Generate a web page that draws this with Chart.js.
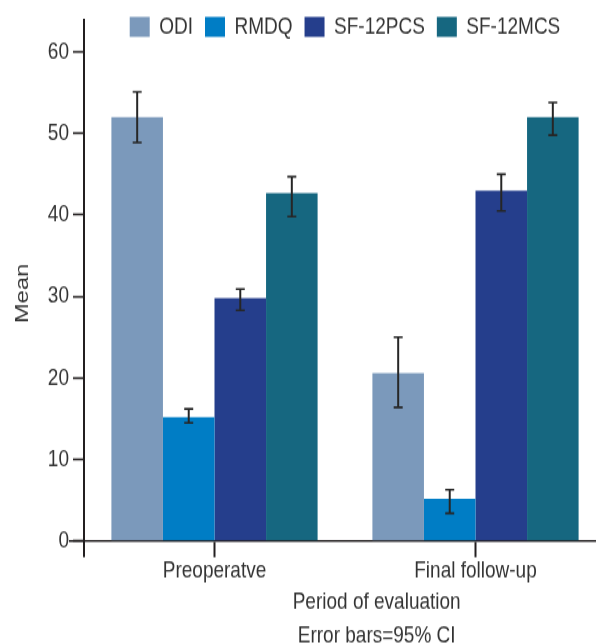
<!DOCTYPE html>
<html>
<head>
<meta charset="utf-8">
<script src="https://cdn.jsdelivr.net/npm/chart.js@4/dist/chart.umd.min.js"></script>
<style>
  html, body { margin: 0; padding: 0; background: #fff; }
  body { width: 596px; height: 644px; overflow: hidden; }
  /* the source figure is stretched vertically, so the chart is too */
  #chart { display: block; transform: scaleY(1.25); transform-origin: 0 0; }
</style>
</head>
<body>
<canvas id="chart" width="606" height="515"></canvas>
<script>
const categories = ['Preoperatve', 'Final follow-up']
const seriesNames = ['ODI', 'RMDQ', 'SF-12PCS', 'SF-12MCS']
const colors = ['#7b99bb', '#007dc5', '#253e8c', '#166780']

const odiMean = [52.0, 20.6]
const rmdqMean = [15.2, 5.2]
const pcsMean = [29.8, 43.0]
const mcsMean = [42.7, 52.0]

// 95% CI (low, high) per category
const odiCI = [[48.9, 55.1], [16.4, 25.0]]
const rmdqCI = [[14.5, 16.2], [3.4, 6.3]]
const pcsCI = [[28.3, 30.9], [40.5, 45.0]]
const mcsCI = [[39.8, 44.7], [49.8, 53.8]]

const yMax = 64
const yStep = 10

const means = [odiMean, rmdqMean, pcsMean, mcsMean]
const cis = [odiCI, rmdqCI, pcsCI, mcsCI]

const ink = '#231f20'
const textColor = '#333333'
const font = { family: '"Liberation Sans", Arial, sans-serif', size: 19 }

const errorBars = {
  id: 'errorBars',
  afterDatasetsDraw(chart) {
    const ctx = chart.ctx
    const y = chart.scales.y
    ctx.save()
    ctx.strokeStyle = '#262626'
    chart.data.datasets.forEach((ds, i) => {
      chart.getDatasetMeta(i).data.forEach((bar, j) => {
        const [lo, hi] = ds.ci[j]
        const yLo = y.getPixelForValue(lo)
        const yHi = y.getPixelForValue(hi)
        ctx.lineWidth = 2
        ctx.beginPath()
        ctx.moveTo(bar.x, yHi)
        ctx.lineTo(bar.x, yLo)
        ctx.stroke()
        ctx.lineWidth = 1.6
        ctx.beginPath()
        ctx.moveTo(bar.x - 4.5, yHi)
        ctx.lineTo(bar.x + 4.5, yHi)
        ctx.moveTo(bar.x - 4.5, yLo)
        ctx.lineTo(bar.x + 4.5, yLo)
        ctx.stroke()
      })
    })
    ctx.restore()
  }
}

// legend sits beside the top of the y axis: keep its layout box thin,
// but let it paint its full row
const legendRoom = {
  id: 'legendRoom',
  afterLayout(chart) {
    if (chart.legend) chart.legend.bottom = chart.legend.top + 40
  }
}

// little stubs where the axes run past their crossing point
const axisStubs = {
  id: 'axisStubs',
  afterDraw(chart) {
    const ctx = chart.ctx
    const { left, bottom } = chart.chartArea
    ctx.save()
    ctx.strokeStyle = ink
    ctx.lineWidth = 2
    ctx.beginPath()
    ctx.moveTo(left, bottom)
    ctx.lineTo(left, bottom + 13)
    ctx.stroke()
    ctx.lineWidth = 1.6
    ctx.beginPath()
    ctx.moveTo(left - 15, bottom)
    ctx.lineTo(left, bottom)
    ctx.stroke()
    ctx.restore()
  }
}

const datasets = seriesNames.map((name, i) => ({
  label: name,
  data: means[i],
  ci: cis[i],
  backgroundColor: colors[i],
  borderWidth: 0,
  categoryPercentage: 0.79,
  barPercentage: 1.0
}))

new Chart(document.getElementById('chart'), {
  type: 'bar',
  data: { labels: categories, datasets },
  plugins: [errorBars, legendRoom, axisStubs],
  options: {
    responsive: false,
    animation: false,
    layout: { padding: { top: 0, right: 0, bottom: 0, left: 0 } },
    plugins: {
      tooltip: { enabled: false },
      legend: {
        position: 'top',
        fullSize: false,
        maxHeight: 15.5,
        labels: {
          boxWidth: 20,
          boxHeight: 16,
          padding: 12,
          color: textColor,
          font
        }
      }
    },
    scales: {
      x: {
        afterFit(scale) { scale.height = 82.2 },
        grid: {
          drawOnChartArea: false,
          offset: false,
          tickLength: 13,
          tickWidth: 2,
          tickColor: ink
        },
        border: { color: ink, width: 1.6 },
        ticks: { color: textColor, font, padding: 0 },
        title: {
          display: true,
          text: ['            Period of evaluation', '            Error bars=95% CI'],
          color: textColor,
          font: { ...font, lineHeight: 1.416 },
          padding: { top: 0, bottom: -7 }
        }
      },
      y: {
        min: 0,
        max: yMax,
        afterFit(scale) { scale.width = 84 },
        grid: {
          drawOnChartArea: false,
          tickLength: 11,
          tickWidth: 1.6,
          tickColor: ink
        },
        border: { color: ink, width: 2 },
        ticks: { stepSize: yStep, includeBounds: false, color: textColor, font, padding: 4 },
        title: {
          display: true,
          text: 'Mean    ',
          color: textColor,
          font,
          padding: { top: 11, bottom: 0 }
        }
      }
    }
  }
})
</script>
</body>
</html>
